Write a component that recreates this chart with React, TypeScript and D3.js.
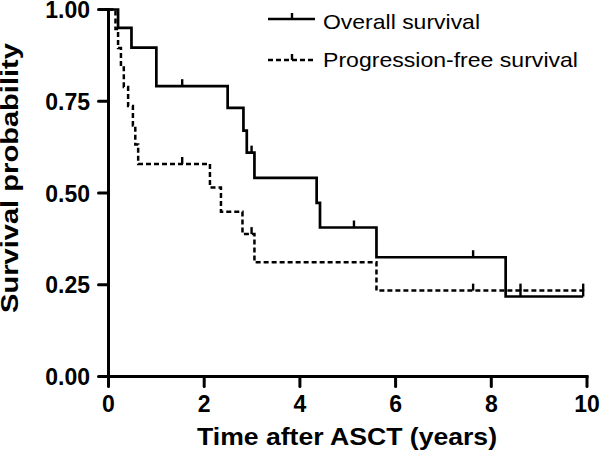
import React from "react";
import * as d3 from "d3";

const osTimes = [0.2, 0.48, 1.0, 2.49, 2.82, 2.89, 3.05, 4.35, 4.42, 5.6, 8.3];
const osSurv = [0.95, 0.896, 0.791, 0.732, 0.67, 0.61, 0.541, 0.473, 0.406, 0.325, 0.218];
const osCensor = [1.54, 2.99, 5.13, 7.62, 8.61, 9.92];

const pfsTimes = [0.146, 0.2, 0.26, 0.32, 0.41, 0.51, 0.56, 0.62, 2.12, 2.35, 2.8, 3.05, 5.6];
const pfsSurv = [0.947, 0.895, 0.842, 0.789, 0.737, 0.684, 0.632, 0.579, 0.515, 0.449, 0.388, 0.311, 0.234];
const pfsCensor = [1.54, 2.99, 7.62, 8.61, 9.92];

const xTicks = [0, 2, 4, 6, 8, 10];
const yTicks = [0, 0.25, 0.5, 0.75, 1.0];
const seriesNames = ["Overall survival", "Progression-free survival"];

const W = 600;
const H = 453;

const x = d3.scaleLinear().domain([0, 10]).range([108.5, 587]);
const y = d3.scaleLinear().domain([0, 1]).range([376.5, 9.5]);

type Pt = [number, number];

function kmPoints(times: number[], surv: number[], censor: number[]): Pt[] {
  const pts: Pt[] = [[0, 1]];
  times.forEach((t, i) => pts.push([t, surv[i]]));
  const end = Math.max(...censor, ...times);
  pts.push([end, surv[surv.length - 1]]);
  return pts;
}

function survAt(times: number[], surv: number[], t: number): number {
  let s = 1;
  times.forEach((tt, i) => {
    if (tt <= t) s = surv[i];
  });
  return s;
}

const line = d3
  .line<Pt>()
  .x((d) => x(d[0]))
  .y((d) => y(d[1]))
  .curve(d3.curveStepAfter);

const FONT = "'Liberation Sans', Arial, Helvetica, sans-serif";

export default function App() {
  const osPts = kmPoints(osTimes, osSurv, osCensor);
  const pfsPts = kmPoints(pfsTimes, pfsSurv, pfsCensor);
  const tickLen = 7;
  return (
    <svg width={W} height={H} style={{ position: "absolute", left: 0, top: 0, background: "#fff" }}>
      <rect width={W} height={H} fill="#fff" />
      {/* axes */}
      <line x1={x(0)} x2={x(0)} y1={y(1) - 1.5} y2={y(0) + 1.5} stroke="#000" strokeWidth={3} />
      <line x1={x(0) - 1.5} x2={x(10) + 1.5} y1={y(0)} y2={y(0)} stroke="#000" strokeWidth={3} />
      {yTicks.map((v) => (
        <g key={"y" + v}>
          <line x1={x(0) - 10} x2={x(0)} y1={y(v)} y2={y(v)} stroke="#000" strokeWidth={3} strokeLinecap="round" />
          <text
            x={90}
            y={y(v) + 8.5}
            textAnchor="end"
            fontFamily={FONT}
            fontWeight="bold"
            fontSize={23}
            fill="#000"
          >
            {v.toFixed(2)}
          </text>
        </g>
      ))}
      {xTicks.map((v) => (
        <g key={"x" + v}>
          <line x1={x(v)} x2={x(v)} y1={y(0)} y2={y(0) + 10} stroke="#000" strokeWidth={3} strokeLinecap="round" />
          <text
            x={x(v)}
            y={412}
            textAnchor="middle"
            fontFamily={FONT}
            fontWeight="bold"
            fontSize={23}
            fill="#000"
          >
            {v}
          </text>
        </g>
      ))}
      <text
        x={347}
        y={445}
        textAnchor="middle"
        fontFamily={FONT}
        fontWeight="bold"
        fontSize={24}
        textLength={300}
        lengthAdjust="spacingAndGlyphs"
        fill="#000"
      >
        Time after ASCT (years)
      </text>
      <text
        transform="translate(18,178) rotate(-90)"
        textAnchor="middle"
        fontFamily={FONT}
        fontWeight="bold"
        fontSize={24}
        textLength={270}
        lengthAdjust="spacingAndGlyphs"
        fill="#000"
      >
        Survival probability
      </text>

      {/* curves */}
      <path d={line(pfsPts) || ""} fill="none" stroke="#000" strokeWidth={2.5} strokeDasharray="5,3" />
      <path d={line(osPts) || ""} fill="none" stroke="#000" strokeWidth={2.7} />
      {pfsCensor.map((t) => {
        const s = survAt(pfsTimes, pfsSurv, t);
        return <line key={"pc" + t} x1={x(t)} x2={x(t)} y1={y(s)} y2={y(s) - tickLen} stroke="#000" strokeWidth={2.4} />;
      })}
      {osCensor.map((t) => {
        const s = survAt(osTimes, osSurv, t);
        return <line key={"oc" + t} x1={x(t)} x2={x(t)} y1={y(s)} y2={y(s) - tickLen} stroke="#000" strokeWidth={2.4} />;
      })}

      {/* legend */}
      <line x1={268} x2={315} y1={19} y2={19} stroke="#000" strokeWidth={2.7} />
      <line x1={292} x2={292} y1={19} y2={13} stroke="#000" strokeWidth={2.4} />
      <text x={323} y={28.5} fontFamily={FONT} fontSize={21} textLength={157} lengthAdjust="spacingAndGlyphs" fill="#000">
        {seriesNames[0]}
      </text>
      <line x1={268} x2={314} y1={60} y2={60} stroke="#000" strokeWidth={2.5} strokeDasharray="5,3" />
      <line x1={292} x2={292} y1={60} y2={54} stroke="#000" strokeWidth={2.4} />
      <text x={323} y={67} fontFamily={FONT} fontSize={21} textLength={255} lengthAdjust="spacingAndGlyphs" fill="#000">
        {seriesNames[1]}
      </text>
    </svg>
  );
}
